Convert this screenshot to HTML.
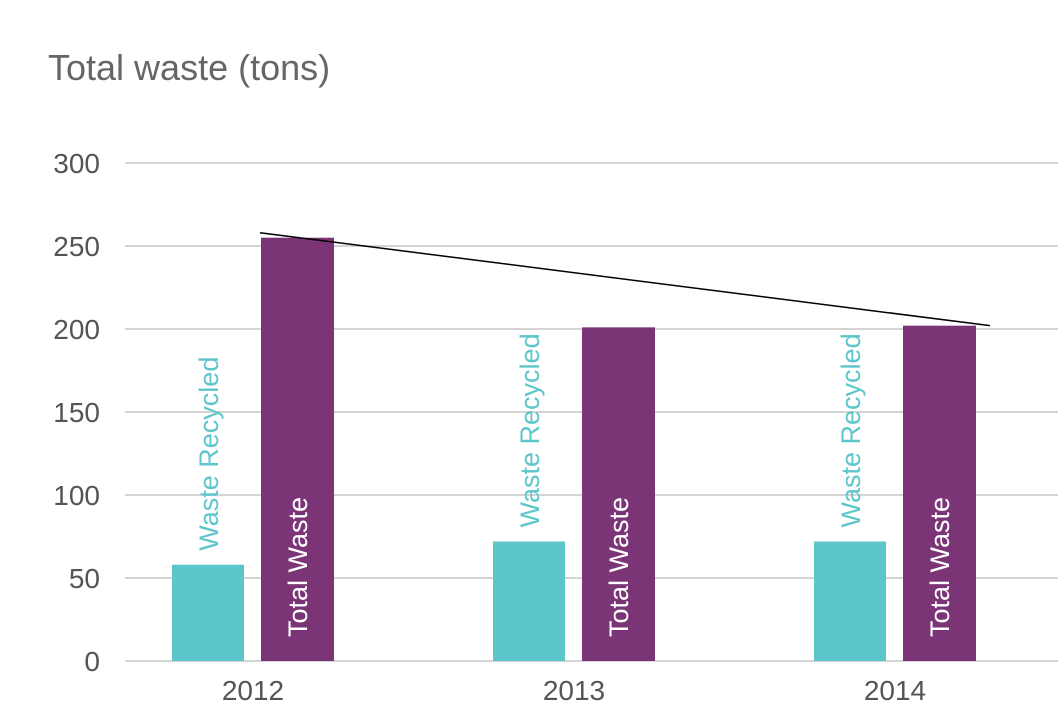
<!DOCTYPE html>
<html><head><meta charset="utf-8"><style>
body{margin:0;background:#fff;font-family:"Liberation Sans",sans-serif;}
</style></head><body>
<svg width="1061" height="705" xmlns="http://www.w3.org/2000/svg">
<text x="48" y="80" font-size="36" fill="#666">Total waste (tons)</text>
<g id="grid"></g><g id="bars"></g><g id="trend"></g>
</svg>
<script>
const years=["2012","2013","2014"];
const recycled=[58,72,72];
const total=[255,201,202];
const ticks=[0,50,100,150,200,250,300];
const trendStart=[0,258];
const trendEnd=[2,202];
const NS="http://www.w3.org/2000/svg";
const y=v=>661-v*1.66;
const gx=i=>253+i*321;
function mk(t,a,p,txt){const e=document.createElementNS(NS,t);for(const k in a)e.setAttribute(k,a[k]);if(txt!==undefined)e.textContent=txt;p.appendChild(e);return e;}
const G=document.getElementById('grid'),B=document.getElementById('bars'),T=document.getElementById('trend');
ticks.forEach(v=>{
 const l=mk('line',{x1:125,x2:1058,y1:y(v),y2:y(v),stroke:'#d4d4d4','stroke-width':2},G);
 
 
 const t=mk('text',{x:100,y:y(v)+10,'text-anchor':'end','font-size':28,fill:'#555'},G,v);
 
 
});
years.forEach((yr,i)=>{
 const c=gx(i);
 const r=mk('rect',{x:c-81,y:y(recycled[i]),width:72,height:661-y(recycled[i]),fill:'#5cc6cb'},B);
 
 
 const p=mk('rect',{x:c+8,y:y(total[i]),width:73,height:661-y(total[i]),fill:'#7b3577'},B);
 
 
 const lx=c-45, ly=y(recycled[i])-14;
 const t1=mk('text',{x:lx,y:ly,transform:`rotate(-90 ${lx} ${ly})`,'font-size':27,fill:'#5cc6cb',dy:10},B,'Waste Recycled');
 
 
 const tx=c+44, ty=637;
 const t2=mk('text',{x:tx,y:ty,transform:`rotate(-90 ${tx} ${ty})`,'font-size':27,fill:'#fff',dy:10},B,'Total Waste');
 
 
 const xl=mk('text',{x:c,y:700,'text-anchor':'middle','font-size':28,fill:'#555'},B,yr);
 
 
});
const tl=mk('line',{x1:gx(trendStart[0])+7,y1:y(trendStart[1]),x2:gx(trendEnd[0])+95,y2:y(trendEnd[1]),stroke:'#000','stroke-width':1.5},T);


</script>
</body></html>
